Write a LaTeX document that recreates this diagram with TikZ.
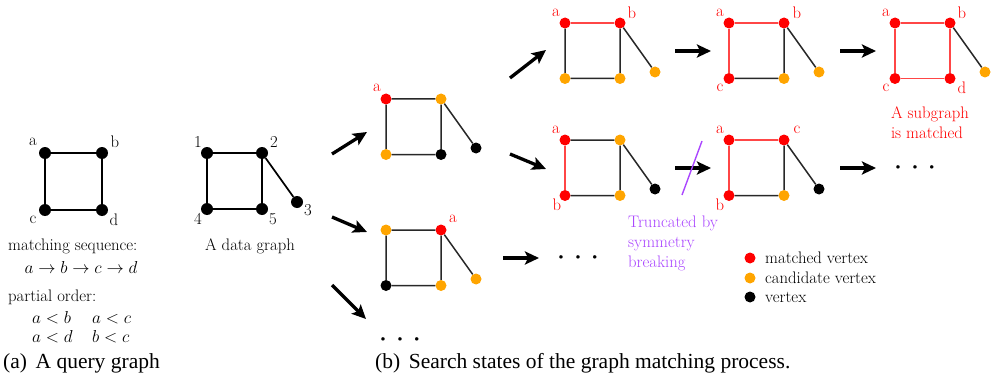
\documentclass[tikz,border=0pt]{standalone}
\usepackage{fontspec}
\newfontfamily\capfont{Liberation Serif}
\usetikzlibrary{arrows.meta}
\definecolor{mred}{RGB}{255,0,0}
\definecolor{ered}{RGB}{255,70,70}
\definecolor{morange}{RGB}{255,165,0}
\definecolor{mpurple}{RGB}{170,70,255}
\definecolor{edark}{RGB}{40,40,40}
\newcommand\gstate[8]{%
 \node[#4] (#1tl) at (#2,#3) {};
 \node[#5] (#1tr) at (#2+55,#3) {};
 \node[#6] (#1bl) at (#2,#3+55.5) {};
 \node[#7] (#1br) at (#2+55,#3+55.5) {};
 \node[#8] (#1p) at (#2+90,#3+49) {};
}
\begin{document}
\begin{tikzpicture}[x=1pt,y=-1pt,
 vtx/.style={circle,fill=black,inner sep=0pt,minimum size=11pt},
 qv/.style={circle,fill=black,inner sep=0pt,minimum size=12pt},
 mv/.style={vtx,fill=mred}, cv/.style={vtx,fill=morange}, bv/.style={vtx,fill=black},
 edg/.style={draw=edark,line width=1.5pt},
 qedg/.style={draw=black,line width=1.7pt},
 redg/.style={draw=ered,line width=1.5pt},
 bigarrow/.style={line width=3.3pt,-{Stealth[length=14pt,width=13pt,inset=3pt]}},
 txt/.style={font=\fontsize{16.7}{20}\selectfont,inner sep=0pt},
 rtxt/.style={txt,text=mred},
 ptxt/.style={txt,text=mpurple,align=left},
 captxt/.style={font=\capfont\fontsize{21.5}{24}\selectfont,inner sep=0pt},
 dotstxt/.style={font=\fontsize{13}{14}\selectfont,inner sep=0pt}
]
\useasboundingbox (0,0) rectangle (992,385);

% ---------- query graph
\node[qv] (qa) at (45,153) {};
\node[qv] (qb) at (102,153) {};
\node[qv] (qc) at (45,210) {};
\node[qv] (qd) at (102,210) {};
\draw[qedg] (qa)--(qb) (qb)--(qd) (qd)--(qc) (qc)--(qa);
\node[txt] (qla) at (33,142) {a};
\node[txt] (qlb) at (115,142) {b};
\node[txt] (qlc) at (33,220) {c};
\node[txt] (qld) at (114,220) {d};

% ---------- data graph
\node[qv] (d1) at (207,153) {};
\node[qv] (d2) at (262,153) {};
\node[qv] (d3) at (297,202) {};
\node[qv] (d4) at (207,209) {};
\node[qv] (d5) at (262,209) {};
\draw[qedg] (d1)--(d2) (d2)--(d5) (d5)--(d4) (d4)--(d1) (d2)--(d3);
\node[txt] (dl1) at (198,142) {1};
\node[txt] (dl2) at (274,142) {2};
\node[txt] (dl3) at (308,210) {3};
\node[txt] (dl4) at (198,219) {4};
\node[txt] (dl5) at (273,219) {5};

\node[txt,anchor=base west] (mseq) at (8,250) {matching sequence:};
\node[txt,anchor=base] (mseqm) at (81,273) {$a\to b\to c\to d$};
\node[txt,anchor=base] (dcap) at (250,250) {A data graph};
\node[txt,anchor=base west] (porder) at (8,301) {partial order:};
\node[txt,anchor=base west] (po1) at (32,323) {$a<b$};
\node[txt,anchor=base west] (po2) at (92,323) {$a<c$};
\node[txt,anchor=base west] (po3) at (32,342) {$a<d$};
\node[txt,anchor=base west] (po4) at (92,342) {$b<c$};

\node[captxt,anchor=base west] (capa) at (3,368) {(a)\hspace{0.4em}A query graph};
\node[captxt,anchor=base west] (capb) at (375,368) {(b)\hspace{0.4em}Search states of the graph matching process.};

% ---------- search states
\gstate{s1}{386}{99}{mv}{cv}{cv}{bv}{bv}
\draw[edg] (s1tl)--(s1tr) (s1tl)--(s1bl) (s1bl)--(s1br) (s1tr)--(s1br) (s1tr)--(s1p);
\node[rtxt] (s1la) at (377,88) {a};

\gstate{s2}{386}{230}{cv}{mv}{bv}{cv}{cv}
\draw[edg] (s2tl)--(s2tr) (s2tl)--(s2bl) (s2bl)--(s2br) (s2tr)--(s2br) (s2tr)--(s2p);
\node[rtxt] (s2la) at (453,219) {a};

\gstate{t1}{565}{23}{mv}{mv}{cv}{cv}{cv}
\draw[redg] (t1tl)--(t1tr);
\draw[edg] (t1tl)--(t1bl) (t1bl)--(t1br) (t1tr)--(t1br) (t1tr)--(t1p);
\node[rtxt] (t1la) at (556,13) {a};
\node[rtxt] (t1lb) at (632,13) {b};

\gstate{t2}{565}{140}{mv}{cv}{mv}{cv}{bv}
\draw[redg] (t2tl)--(t2bl);
\draw[edg] (t2tl)--(t2tr) (t2bl)--(t2br) (t2tr)--(t2br) (t2tr)--(t2p);
\node[rtxt] (t2la) at (556,130) {a};
\node[rtxt] (t2lb) at (557,205) {b};

\gstate{u1}{729}{23}{mv}{mv}{mv}{cv}{cv}
\draw[redg] (u1tl)--(u1tr) (u1tl)--(u1bl);
\draw[edg] (u1bl)--(u1br) (u1tr)--(u1br) (u1tr)--(u1p);
\node[rtxt] (u1la) at (720,13) {a};
\node[rtxt] (u1lb) at (797,13) {b};
\node[rtxt] (u1lc) at (720,88) {c};

\gstate{u2}{729}{140}{mv}{mv}{mv}{cv}{bv}
\draw[redg] (u2tl)--(u2tr) (u2tl)--(u2bl);
\draw[edg] (u2bl)--(u2br) (u2tr)--(u2br) (u2tr)--(u2p);
\node[rtxt] (u2la) at (720,130) {a};
\node[rtxt] (u2lc) at (797,130) {c};
\node[rtxt] (u2lb) at (720,205) {b};

\gstate{v1}{895}{23}{mv}{mv}{mv}{mv}{cv}
\draw[redg] (v1tl)--(v1tr) (v1tl)--(v1bl) (v1bl)--(v1br) (v1tr)--(v1br);
\draw[edg] (v1tr)--(v1p);
\node[rtxt] (v1la) at (886,13) {a};
\node[rtxt] (v1lb) at (962,13) {b};
\node[rtxt] (v1lc) at (886,88) {c};
\node[rtxt] (v1ld) at (962,88) {d};

\node[rtxt,align=left] (matched) at (930,123) {A subgraph\\is matched};
\node[ptxt,anchor=west] (trunc) at (628,243) {Truncated by\\symmetry\\breaking};

% ---------- arrows
\coordinate (a1s) at (332,154); \coordinate (a1e) at (367,132);
\coordinate (a2s) at (332,217); \coordinate (a2e) at (367,232);
\coordinate (a3s) at (332,285); \coordinate (a3e) at (366,319);
\coordinate (a4s) at (510,78);  \coordinate (a4e) at (546,50);
\coordinate (a5s) at (510,154); \coordinate (a5e) at (546,169);
\coordinate (a6s) at (503,258); \coordinate (a6e) at (539,258);
\coordinate (a7s) at (675,51);  \coordinate (a7e) at (711,51);
\coordinate (a8s) at (675,168); \coordinate (a8e) at (711,168);
\coordinate (a9s) at (840,51);  \coordinate (a9e) at (876,51);
\coordinate (a10s) at (840,168); \coordinate (a10e) at (876,168);
\foreach \i in {1,...,10} { \draw[bigarrow] (a\i s) -- (a\i e); }

\coordinate (sl1) at (702,141); \coordinate (sl2) at (682,195);
\draw[mpurple,line width=1.4pt] (sl1) -- (sl2);

% ---------- dots
\node[dotstxt] (dt1) at (400,340) {\textbullet\hspace{7pt}\textbullet\hspace{7pt}\textbullet};
\node[dotstxt] (dt2) at (578,258) {\textbullet\hspace{7pt}\textbullet\hspace{7pt}\textbullet};
\node[dotstxt] (dt3) at (915,168) {\textbullet\hspace{7pt}\textbullet\hspace{7pt}\textbullet};

% ---------- legend
\node[mv] (lg1) at (750,258) {};
\node[cv] (lg2) at (750,278) {};
\node[bv] (lg3) at (750,297) {};
\node[txt,anchor=west] (lt1) at (765,258) {matched vertex};
\node[txt,anchor=west] (lt2) at (765,278) {candidate vertex};
\node[txt,anchor=west] (lt3) at (765,297) {vertex};
\end{tikzpicture}
\end{document}
